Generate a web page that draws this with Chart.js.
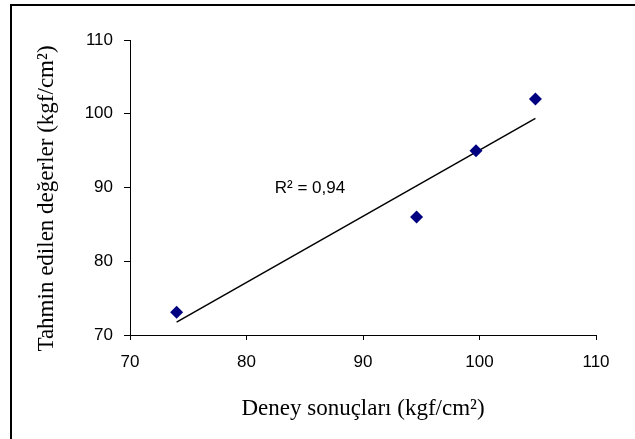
<!DOCTYPE html>
<html>
<head>
<meta charset="utf-8">
<script src="https://cdn.jsdelivr.net/npm/chart.js@4"></script>
<style>
  html, body { margin: 0; padding: 0; background: #fff; }
  #wrap { position: relative; width: 635px; height: 439px; overflow: hidden; }
  #frame { position: absolute; left: 10px; top: 4px; width: 700px; height: 500px;
           border-left: 2px solid #000; border-top: 2px solid #000; pointer-events: none; }
  canvas { position: absolute; left: 0; top: 0; }
</style>
</head>
<body>
<div id="wrap">
  <canvas id="c" width="635" height="439"></canvas>
  <div id="frame"></div>
</div>
<script>
const measured = [74, 94.6, 99.7, 104.8];   // Deney sonuçları
const predicted = [73.1, 86, 95, 102];       // Tahmin edilen değerler
const xTicks = [70, 80, 90, 100, 110];
const yTicks = [70, 80, 90, 100, 110];
const xTitle = 'Deney sonuçları (kgf/cm²)';
const yTitle = 'Tahmin edilen değerler (kgf/cm²)';
const r2Text = 'R² = 0,94';
const r2Pos = [85.45, 89.9];

// least-squares trend line
const n = measured.length;
const mx = measured.reduce((a, b) => a + b, 0) / n;
const my = predicted.reduce((a, b) => a + b, 0) / n;
let sxy = 0, sxx = 0;
for (let i = 0; i < n; i++) { sxy += (measured[i] - mx) * (predicted[i] - my); sxx += (measured[i] - mx) ** 2; }
const slope = sxy / sxx, icpt = my - slope * mx;
const xMin = Math.min(...measured), xMax = Math.max(...measured);
const trend = [{x: xMin, y: icpt + slope * xMin}, {x: xMax, y: icpt + slope * xMax}];

const textPlugin = {
  id: 'texts',
  afterDatasetsDraw(chart) {
    const {ctx, scales} = chart;
    ctx.save();
    ctx.font = '17px "Liberation Sans", Arial, sans-serif';
    ctx.fillStyle = '#000';
    ctx.textAlign = 'center';
    ctx.textBaseline = 'middle';
    ctx.fillText(r2Text, scales.x.getPixelForValue(r2Pos[0]), scales.y.getPixelForValue(r2Pos[1]));
    // y axis title
    ctx.font = '23px "Liberation Serif", "Times New Roman", serif';
    ctx.translate(47, (scales.y.top + scales.y.bottom) / 2 + 11);
    ctx.rotate(-Math.PI / 2);
    ctx.fillText(yTitle, 0, 0);
    ctx.restore();
  }
};

const tickFont = {family: '"Liberation Sans", Arial, sans-serif', size: 17};
const titleFont = {family: '"Liberation Serif", "Times New Roman", serif', size: 23};

new Chart(document.getElementById('c'), {
  type: 'scatter',
  data: {
    datasets: [
      {
        label: 'data',
        data: measured.map((v, i) => ({x: v, y: predicted[i]})),
        pointStyle: 'rectRot',
        pointRadius: 6.5,
        pointBackgroundColor: '#000080',
        pointBorderColor: '#000080',
        pointBorderWidth: 0,
        showLine: false,
        order: 1
      },
      {
        label: 'trend',
        data: trend,
        showLine: true,
        borderColor: '#000',
        borderWidth: 1.5,
        pointRadius: 0,
        fill: false,
        order: 2
      }
    ]
  },
  options: {
    responsive: false,
    animation: false,
    devicePixelRatio: 1,
    layout: {padding: {left: 0, right: 39, top: 40, bottom: 0}},
    plugins: {legend: {display: false}, tooltip: {enabled: false}},
    scales: {
      x: {
        type: 'linear',
        min: 70, max: 110,
        afterBuildTicks(s) { s.ticks = xTicks.map(v => ({value: v})); },
        afterFit(s) { s.height = 104; },
        grid: {display: true, drawOnChartArea: false, drawTicks: true, tickLength: 5, color: '#000', lineWidth: 1},
        border: {display: true, color: '#000', width: 1},
        ticks: {color: '#000', font: tickFont, padding: 12, maxRotation: 0},
        title: {display: true, text: xTitle, color: '#000', font: titleFont, padding: {top: 0, bottom: 16}, align: 'center'}
      },
      y: {
        type: 'linear',
        min: 70, max: 110,
        afterBuildTicks(s) { s.ticks = yTicks.map(v => ({value: v})); },
        afterFit(s) { s.width = 130; },
        grid: {display: true, drawOnChartArea: false, drawTicks: true, tickLength: 6, color: '#000', lineWidth: 1},
        border: {display: true, color: '#000', width: 1},
        ticks: {color: '#000', font: tickFont, padding: 11},
        title: {display: false}
      }
    }
  },
  plugins: [textPlugin]
});
</script>
</body>
</html>
